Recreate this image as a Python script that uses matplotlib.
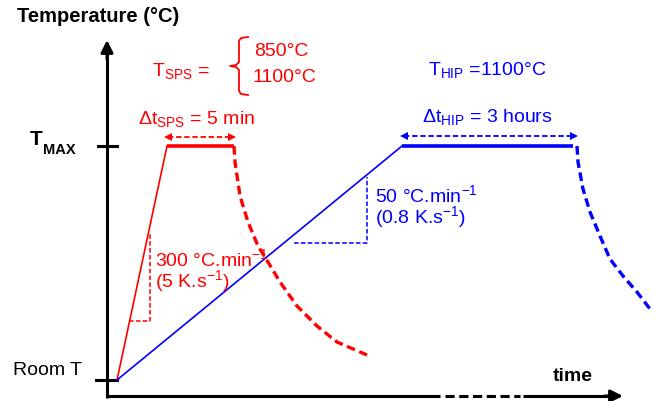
import matplotlib
matplotlib.use('Agg')
import matplotlib.pyplot as plt

plt.rcParams['font.family'] = ['Liberation Sans', 'DejaVu Sans']
plt.rcParams['mathtext.fontset'] = 'custom'
plt.rcParams['mathtext.rm'] = 'Liberation Sans'
plt.rcParams['mathtext.default'] = 'regular'

RED = '#ff0000'
BLUE = '#0000ff'

# -------------------------- schematic data (diagram units) --------------------------
t_room, t_max = 381, 147          # vertical positions of Room T and T_MAX
axis_x0, axis_y0 = 107, 397

# SPS cycle
sps_ramp_t = [117, 167]
sps_ramp_T = [t_room, t_max]
sps_hold_t = [167, 234]
sps_cool_t = [234, 235, 240, 248, 258, 268, 280, 297, 317, 337, 367]
sps_cool_T = [147, 163, 197, 223, 247, 263, 283, 307, 327, 343, 356]
sps_tri_t = [129, 150, 150]
sps_tri_T = [322, 322, 233]
sps_dt_t = [168, 232]
sps_dt_T = 138

# HIP cycle
hip_ramp_t = [117, 402]
hip_ramp_T = [t_room, t_max]
hip_hold_t = [402, 573]
hip_cool_t = [577, 578, 583, 590, 600, 610, 623, 637, 650]
hip_cool_T = [147, 163, 190, 213, 237, 260, 277, 293, 310]
hip_tri_t = [294, 367, 367]
hip_tri_T = [244, 244, 178]
hip_dt_t = [404, 574]
hip_dt_T = 137

# brace for T_SPS
brace_t = [248, 241, 239, 239, 236, 230, 236, 239, 239, 241, 248]
brace_T = [38, 39, 42, 63, 66, 67, 68, 71, 92, 95, 96]

# -------------------------- drawing --------------------------
fig = plt.figure(figsize=(6.53, 4.02), dpi=100)
ax = fig.add_axes([0, 0, 1, 1])
ax.set_xlim(0, 653)
ax.set_ylim(402, 0)
ax.axis('off')

# axes of the schematic
ax.plot([axis_x0, axis_x0], [axis_y0 + 2, 55], color='black', lw=2.2, solid_capstyle='butt')
ax.annotate('', xy=(axis_x0, 41), xytext=(axis_x0, 60),
            arrowprops=dict(arrowstyle='-|>', color='black', lw=2.2, mutation_scale=18, shrinkA=0, shrinkB=0))
ax.plot([axis_x0, 440], [axis_y0, axis_y0], color='black', lw=2.2, solid_capstyle='butt')
ax.plot([445, 520], [axis_y0, axis_y0], color='black', lw=2.2, ls=(0, (3, 1.5)))
ax.plot([523, 610], [axis_y0, axis_y0], color='black', lw=2.2, solid_capstyle='butt')
ax.annotate('', xy=(623, axis_y0), xytext=(605, axis_y0),
            arrowprops=dict(arrowstyle='-|>', color='black', lw=2.2, mutation_scale=18, shrinkA=0, shrinkB=0))
# ticks
ax.plot([98, 117], [t_max, t_max], color='black', lw=2.2)
ax.plot([96, 117], [t_room, t_room], color='black', lw=2.2)

# SPS
ax.plot(sps_ramp_t, sps_ramp_T, color=RED, lw=1.2)
ax.plot(sps_hold_t, [t_max, t_max], color=RED, lw=2.6, solid_capstyle='butt')
ax.plot(sps_cool_t, sps_cool_T, color=RED, lw=2.4, ls=(0, (2.6, 1.4)))
ax.plot(sps_tri_t, sps_tri_T, color=RED, lw=1.1, ls=(0, (3, 1.5)))
ax.plot(sps_dt_t, [sps_dt_T, sps_dt_T], color=RED, lw=1.3, ls=(0, (3, 1.5)))
ax.plot(sps_dt_t[0], sps_dt_T, marker='<', color=RED, ms=6, mew=0)
ax.plot(sps_dt_t[1], sps_dt_T, marker='>', color=RED, ms=6, mew=0)
ax.plot(brace_t, brace_T, color=RED, lw=1.3)

# HIP
ax.plot(hip_ramp_t, hip_ramp_T, color=BLUE, lw=1.2)
ax.plot(hip_hold_t, [t_max, t_max], color=BLUE, lw=2.6, solid_capstyle='butt')
ax.plot(hip_cool_t, hip_cool_T, color=BLUE, lw=2.4, ls=(0, (2.6, 1.4)))
ax.plot(hip_tri_t, hip_tri_T, color=BLUE, lw=1.1, ls=(0, (3, 1.5)))
ax.plot(hip_dt_t, [hip_dt_T, hip_dt_T], color=BLUE, lw=1.3, ls=(0, (3, 1.5)))
ax.plot(hip_dt_t[0], hip_dt_T, marker='<', color=BLUE, ms=6, mew=0)
ax.plot(hip_dt_t[1], hip_dt_T, marker='>', color=BLUE, ms=6, mew=0)

# texts
fs = 14
ax.text(17, 17, 'Temperature (°C)', fontsize=14.5, fontweight='bold', ha='left', va='center')
ax.text(30, 140, 'T', fontsize=15, fontweight='bold', ha='left', va='center')
ax.text(43, 150, 'MAX', fontsize=10.5, fontweight='bold', ha='left', va='center')
ax.text(13, 371, 'Room T', fontsize=fs, ha='left', va='center')
ax.text(553, 377, 'time', fontsize=14, fontweight='bold', ha='left', va='center')

ax.text(152, 71, 'T$_{SPS}$ =', fontsize=fs, color=RED, ha='left', va='center')
ax.text(254, 52, '850°C', fontsize=fs, color=RED, ha='left', va='center')
ax.text(252, 77, '1100°C', fontsize=fs, color=RED, ha='left', va='center')
ax.text(138, 119, 'Δt$_{SPS}$ = 5 min', fontsize=fs, color=RED, ha='left', va='center')
ax.text(155, 259, '300 °C.min$^{-1}$', fontsize=fs, color=RED, ha='left', va='center')
ax.text(155, 281, '(5 K.s$^{-1}$)', fontsize=fs, color=RED, ha='left', va='center')

ax.text(428, 70, 'T$_{HIP}$ =1100°C', fontsize=fs, color=BLUE, ha='left', va='center')
ax.text(422, 117, 'Δt$_{HIP}$ = 3 hours', fontsize=fs, color=BLUE, ha='left', va='center')
ax.text(375, 195, '50 °C.min$^{-1}$', fontsize=fs, color=BLUE, ha='left', va='center')
ax.text(375, 217, '(0.8 K.s$^{-1}$)', fontsize=fs, color=BLUE, ha='left', va='center')

fig.savefig('out.png', dpi=100)
